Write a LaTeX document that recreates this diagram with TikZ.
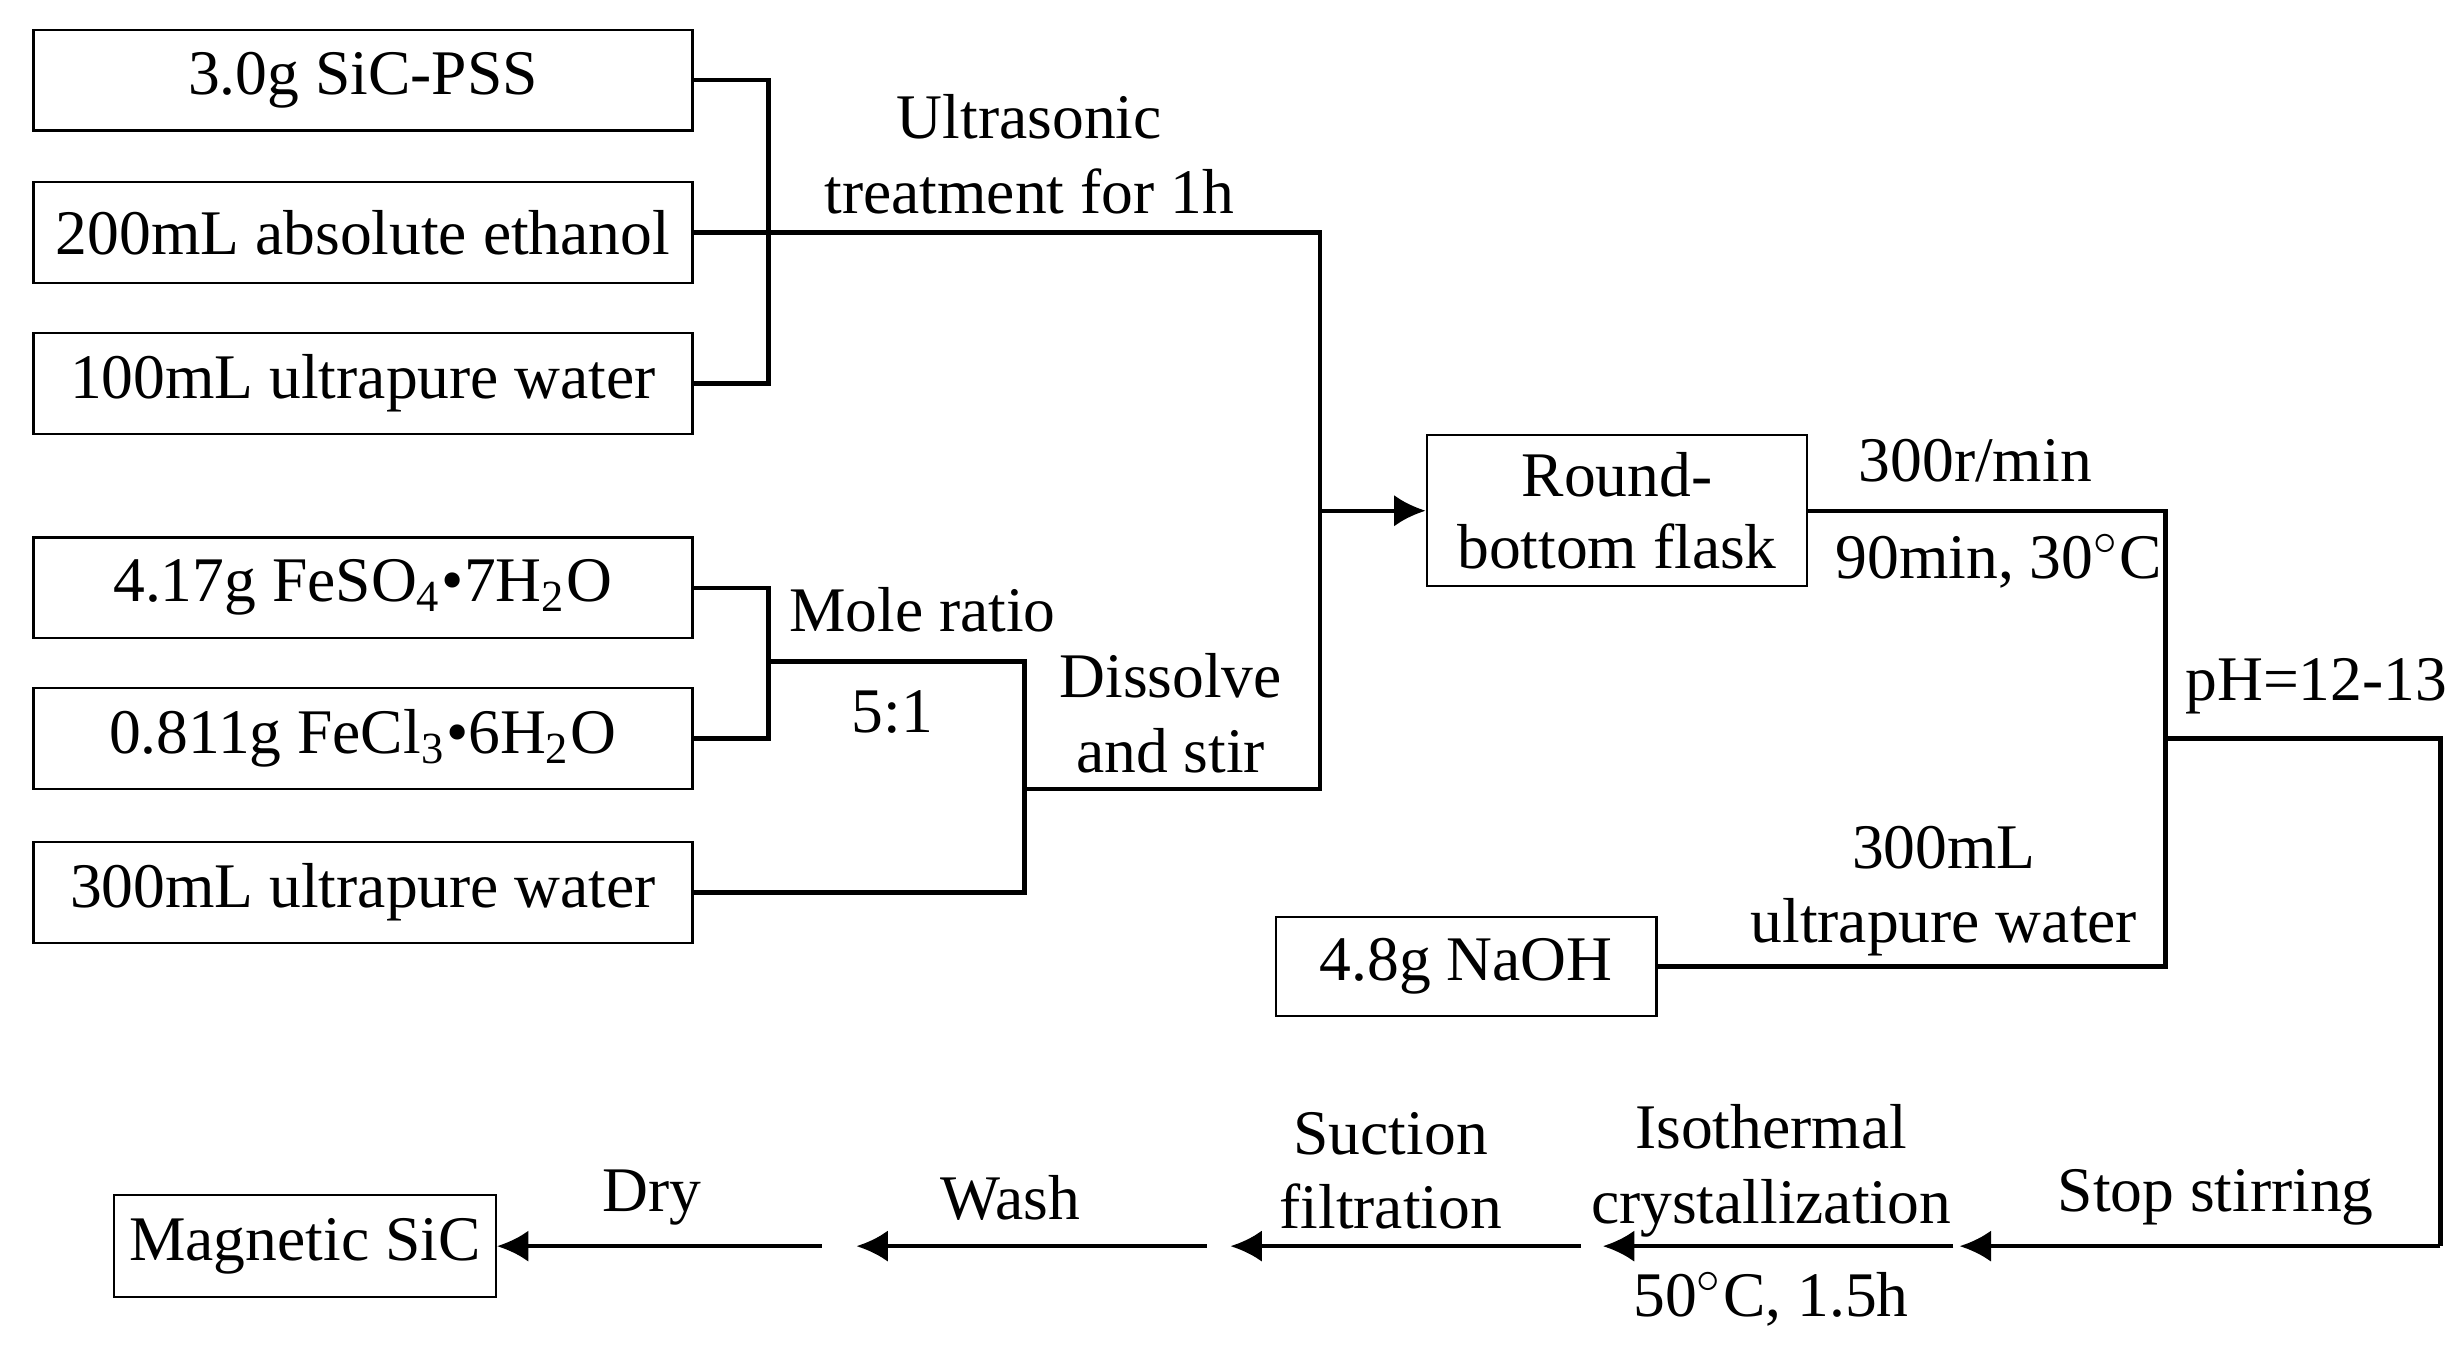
\documentclass[tikz,border=0pt]{standalone}
\usepackage{fontspec}
\setmainfont{Liberation Serif}
\usetikzlibrary{positioning,arrows.meta}
\tikzset{
  box/.style={draw,thin,minimum height=0.64cm,inner sep=2pt,font=\fontsize{11.5}{13}\selectfont},
  lbl/.style={align=center,font=\fontsize{11.5}{13.5}\selectfont},
  ln/.style={thick},
  arr/.style={thick,-{Latex[length=2mm,width=2mm]}}
}
\begin{document}
\begin{tikzpicture}[x=0.01cm,y=-0.01cm]
  \useasboundingbox (0,0) rectangle (1568,866);
  % input boxes
  \node[box,minimum width=4.19cm] (pss) at (231,51) {3.0g SiC-PSS};
  \node[box,minimum width=4.19cm] (eth) at (231,148) {200mL absolute ethanol};
  \node[box,minimum width=4.19cm] (wa) at (231,244) {100mL ultrapure water};
  \node[box,minimum width=4.19cm] (fes) at (231,374) {4.17g FeSO\textsubscript{4}\textbullet7H\textsubscript{2}O};
  \node[box,minimum width=4.19cm] (fec) at (231,470) {0.811g FeCl\textsubscript{3}\textbullet6H\textsubscript{2}O};
  \node[box,minimum width=4.19cm] (wb) at (231,568) {300mL ultrapure water};
  \node[box,minimum width=2.42cm,minimum height=0.96cm,align=center] (flask) at (1029,325) {Round-\\bottom flask};
  \node[box,minimum width=2.42cm,minimum height=0.63cm] (naoh) at (933,615) {4.8g NaOH};
  \node[box,minimum width=2.43cm,minimum height=0.65cm] (msic) at (194,793) {Magnetic SiC};

  % junction points
  \coordinate (j2) at (840,148);
  \coordinate (j3) at (840,325);
  \coordinate (j4) at (840,502);
  \coordinate (j5) at (489,421);
  \coordinate (j6) at (652,421);
  \coordinate (j7) at (652,502);
  \coordinate (j9) at (1378,470);
  \coordinate (j10) at (1553,470);
  \coordinate (j11) at (1553,793);
  \coordinate (e0) at (1247,793);
  \coordinate (s1) at (1243,793);
  \coordinate (e1) at (1020,793);
  \coordinate (s2) at (1006,793);
  \coordinate (e2) at (783,793);
  \coordinate (s3) at (768,793);
  \coordinate (e3) at (545,793);
  \coordinate (s4) at (523,793);

  % first mixture
  \draw[ln] (pss.east) -| (489,244) -- (wa.east);
  \draw[ln] (eth.east) -- (j2) -- (j4) -- (j7);
  \draw[arr] (j3) -- (flask.west);
  % iron salts
  \draw[ln] (fes.east) -| (489,470) -- (fec.east);
  \draw[ln] (j5) -- (j6) |- (wb.east);
  % precipitation
  \draw[ln] (flask.east) -| (1378,615) -- (naoh.east);
  \draw[ln] (j9) -- (j10) -- (j11);
  \draw[arr] (j11) -- (e0);
  \draw[arr] (s1) -- (e1);
  \draw[arr] (s2) -- (e2);
  \draw[arr] (s3) -- (e3);
  \draw[arr] (s4) -- (msic.east);

  % labels
  \node[lbl] at (655,98) {Ultrasonic\\treatment for 1h};
  \node[lbl] at (587,388) {Mole ratio};
  \node[lbl] at (568,453) {5:1};
  \node[lbl] at (745,454) {Dissolve\\and stir};
  \node[lbl] at (1257,293) {300r/min};
  \node[lbl] at (1272,357) {90min, 30$^\circ$C};
  \node[lbl] at (1474,437) {pH=12-13};
  \node[lbl] at (1237,567) {300mL\\ultrapure water};
  \node[lbl] at (1410,762) {Stop stirring};
  \node[lbl] at (1127,745) {Isothermal\\crystallization};
  \node[lbl] at (1127,827) {50$^\circ$C, 1.5h};
  \node[lbl] at (885,745) {Suction\\filtration};
  \node[lbl] at (643,762) {Wash};
  \node[lbl] at (415,762) {Dry};
\end{tikzpicture}
\end{document}
